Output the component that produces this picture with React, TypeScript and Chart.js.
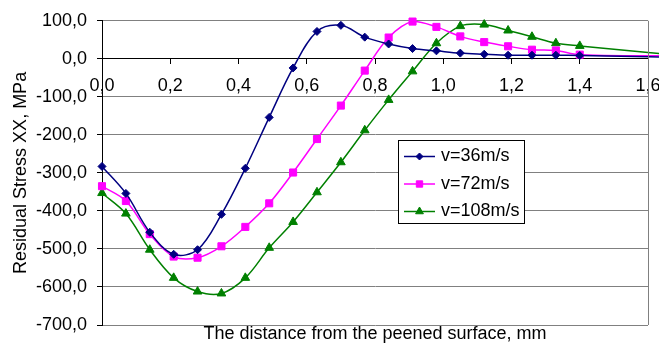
import React, { useEffect, useRef } from 'react';
import { Chart, registerables } from 'chart.js';

Chart.register(...registerables);

// Distance from the peened surface, mm (last point lies beyond the axis end)
const distances = [0, 0.07, 0.14, 0.21, 0.28, 0.35, 0.42, 0.49, 0.56, 0.63, 0.7, 0.77, 0.84, 0.91, 0.98, 1.05, 1.12, 1.19, 1.26, 1.33, 1.4, 1.8];

// Residual stress XX, MPa
const v36 = [-283, -354, -456, -514, -502, -409, -288, -154, -24, 72, 88, 57, 39, 27, 21, 15, 12, 9.5, 9.5, 9.5, 8.7, 2];
const v72 = [-335, -374, -461, -520, -523, -493, -442, -380, -299, -211, -123, -31, 56, 98, 84, 59, 44, 33, 24, 22, 11, 7];
const v108 = [-353, -407, -502, -576, -612, -617, -576, -497, -429, -351, -272, -188, -108, -33, 41, 86, 90, 74.5, 58, 41, 34, 0];

const seriesLabels = ['v=36m/s', 'v=72m/s', 'v=108m/s'];
const seriesColors = ['#000080', '#FF00FF', '#008000'];
const seriesMarkers = ['rectRot', 'rect', 'triangle'];
const markedPoints = 21;

const yMin = -700;
const yMax = 100;
const yStep = 100;
const xMin = 0;
const xMax = 1.6;
const xStep = 0.2;

const FONT = '"Liberation Sans", Arial, sans-serif';

function fmt(v: number) {
  return Number(v).toFixed(1).replace('.', ',');
}

function drawMarker(ctx: CanvasRenderingContext2D, style: string, x: number, y: number, r: number, color: string) {
  ctx.fillStyle = color;
  ctx.strokeStyle = color;
  ctx.lineWidth = 1;
  ctx.beginPath();
  if (style === 'rectRot') {
    ctx.moveTo(x, y - r);
    ctx.lineTo(x + r, y);
    ctx.lineTo(x, y + r);
    ctx.lineTo(x - r, y);
    ctx.closePath();
  } else if (style === 'rect') {
    const s = r * Math.SQRT1_2;
    ctx.rect(x - s, y - s, 2 * s, 2 * s);
  } else {
    ctx.moveTo(x, y - r);
    ctx.lineTo(x + r * 0.866, y + r * 0.5);
    ctx.lineTo(x - r * 0.866, y + r * 0.5);
    ctx.closePath();
  }
  ctx.fill();
  ctx.stroke();
}

const framePlugin = {
  id: 'frameAndLegend',
  afterDraw(chart: any) {
    const ctx: CanvasRenderingContext2D = chart.ctx;
    const area = chart.chartArea;
    ctx.save();
    // right border of plot area
    ctx.strokeStyle = '#808080';
    ctx.lineWidth = 1;
    ctx.beginPath();
    ctx.moveTo(Math.round(area.right) + 0.5, area.top);
    ctx.lineTo(Math.round(area.right) + 0.5, area.bottom);
    ctx.stroke();

    // legend box
    const bx = 398.5, by = 140.5, bw = 126, bh = 83;
    ctx.fillStyle = '#ffffff';
    ctx.fillRect(bx, by, bw, bh);
    ctx.strokeStyle = '#000000';
    ctx.lineWidth = 1;
    ctx.strokeRect(bx, by, bw, bh);
    const radii = [3.5, 4.5, 4.5];
    chart.data.datasets.forEach((ds: any, i: number) => {
      const y = 156.5 + i * 27.5;
      ctx.strokeStyle = ds.borderColor;
      ctx.lineWidth = 1.5;
      ctx.beginPath();
      ctx.moveTo(404, y);
      ctx.lineTo(435, y);
      ctx.stroke();
      drawMarker(ctx, ds.pointStyle, 419.5, y, radii[i], ds.borderColor);
      ctx.fillStyle = '#000000';
      ctx.font = '18px ' + FONT;
      ctx.textBaseline = 'middle';
      ctx.textAlign = 'left';
      ctx.fillText(ds.label, 441, y);
    });
    ctx.restore();
  },
};

export default function App() {
  const canvasRef = useRef<HTMLCanvasElement | null>(null);

  useEffect(() => {
    if (!canvasRef.current) return;
    const series = [v36, v72, v108];
    const radii = [4, 5, 5];
    const chart = new Chart(canvasRef.current, {
      type: 'line',
      data: {
        datasets: series.map((vals, i) => ({
          label: seriesLabels[i],
          data: vals.map((v, j) => ({ x: distances[j], y: v })),
          borderColor: seriesColors[i],
          backgroundColor: seriesColors[i],
          borderWidth: 1.5,
          pointStyle: seriesMarkers[i] as any,
          pointRadius: (c: any) => (c.dataIndex < markedPoints ? radii[i] : 0),
          pointBorderWidth: 1,
          pointBackgroundColor: seriesColors[i],
          pointBorderColor: seriesColors[i],
          tension: 0.35,
          clip: false as any,
          fill: false,
        })),
      },
      options: {
        animation: false,
        responsive: true,
        maintainAspectRatio: false,
        layout: { padding: { top: 17, right: 11, left: 0, bottom: 0 } },
        plugins: {
          legend: { display: false },
          tooltip: { enabled: false },
        },
        font: { family: FONT, size: 18 } as any,
        scales: {
          x: {
            type: 'linear',
            min: xMin,
            max: xMax,
            position: { y: 0 } as any,
            ticks: {
              stepSize: xStep,
              autoSkip: false,
              maxRotation: 0,
              padding: 11,
              color: '#000',
              font: { family: FONT, size: 18 },
              callback: (v: any) => fmt(v),
            },
            grid: {
              drawOnChartArea: false,
              drawTicks: true,
              tickLength: 5,
              tickColor: '#000',
            },
            border: { display: true, color: '#000', width: 1 },
            afterFit: (s: any) => {
              s.paddingLeft = 0;
              s.paddingRight = 0;
              s.paddingTop = 0;
              s.paddingBottom = 0;
              s.height = 0;
            },
          },
          x2: {
            type: 'linear',
            min: xMin,
            max: xMax,
            position: 'bottom',
            ticks: { display: false },
            grid: { display: false },
            border: { display: false },
            title: {
              display: true,
              text: 'The distance from the peened surface, mm',
              color: '#000',
              font: { family: FONT, size: 18 },
              padding: { top: 0, bottom: 2 },
            },
            afterFit: (s: any) => {
              s.height = 22;
            },
          },
          y: {
            type: 'linear',
            min: yMin,
            max: yMax,
            position: 'left',
            ticks: {
              stepSize: yStep,
              padding: 10,
              color: '#000',
              font: { family: FONT, size: 18 },
              callback: (v: any) => fmt(v),
            },
            grid: {
              color: (c: any) => (c.tick && c.tick.value === 0 ? '#000' : '#808080'),
              lineWidth: 1,
              drawTicks: true,
              tickLength: 5,
              tickColor: '#000',
            },
            border: { display: true, color: '#000', width: 1 },
            title: {
              display: true,
              text: 'Residual Stress XX, MPa',
              color: '#000',
              font: { family: FONT, size: 18 },
              padding: { top: 10, bottom: 0 },
            },
            afterFit: (s: any) => {
              s.width = 102;
            },
          },
        },
      },
      plugins: [framePlugin],
    });
    return () => chart.destroy();
  }, []);

  return (
    <div style={{ position: 'absolute', left: 0, top: 0, width: 659, height: 347, background: '#fff' }}>
      <canvas ref={canvasRef} />
    </div>
  );
}
